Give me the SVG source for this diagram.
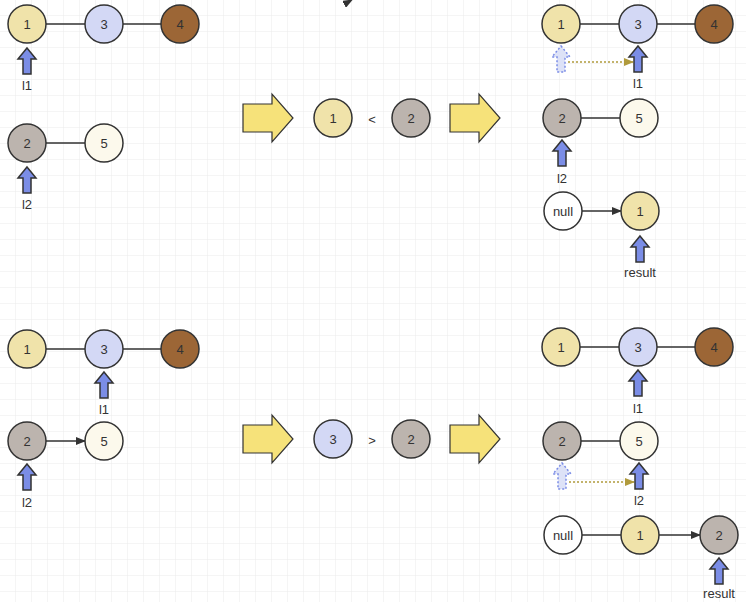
<svg xmlns="http://www.w3.org/2000/svg" width="746" height="602" viewBox="0 0 746 602">
<defs>
<pattern id="g" width="16" height="16" patternUnits="userSpaceOnUse"><path d="M16 0V16H0" fill="none" stroke="#ebebeb" stroke-width="1"/></pattern>
<marker id="ah" markerWidth="10" markerHeight="8" refX="9" refY="4" orient="auto" markerUnits="userSpaceOnUse"><path d="M0 0L10 4L0 8Z" fill="#333"/></marker>
<marker id="ay" markerWidth="10" markerHeight="8" refX="9" refY="4" orient="auto" markerUnits="userSpaceOnUse"><path d="M0 0L10 4L0 8Z" fill="#b09a3c"/></marker>
<path id="ptr" d="M0 0L9 11L4 11L4 26L-4 26L-4 11L-9 11Z"/>
<path id="big" d="M0 10H29V0L50 24L29 48V38H0Z"/>
</defs>
<style>
circle{stroke:#333;stroke-width:1.5}
.a{fill:#f0e3aa}.b{fill:#d3d8f5}.c{fill:#9c6636}.d{fill:#bcb4ae}.e{fill:#fcf9ec}.n{fill:#fff}
text{font-family:"Liberation Sans",Arial,sans-serif;font-size:13px;fill:#333;text-anchor:middle;dominant-baseline:central}
.p{fill:#7b8de6;stroke:#333;stroke-width:1.5}
.pd{fill:#dde2f7;stroke:#7b8de6;stroke-width:1.5;stroke-dasharray:2 2}
.y{fill:#f6e27a;stroke:#333;stroke-width:1.2}
.l{stroke:#333;stroke-width:1.3;fill:none}
.dl{stroke:#b09a3c;stroke-width:1.5;stroke-dasharray:2 2;fill:none}
</style>
<rect width="746" height="602" fill="#fff"/>
<rect width="746" height="602" fill="url(#g)"/>
<g id="connectors">
<path class="l" marker-end="url(#ah)" d="M46 24H85M123 24H161M46 143H85M352 0"/>
<path class="l" marker-end="url(#ah)" d="M580 24H619M657 24H695M581 118H620M582 211H621"/>
<path class="l" marker-end="url(#ah)" d="M46 349H85M123 349H161M46 441H85"/>
<path class="l" marker-end="url(#ah)" d="M580 347H619M657 347H695M581 441H620M582 535H621M659 535H700"/>
<path class="dl" marker-end="url(#ay)" d="M568 62H633"/>
<path class="dl" marker-end="url(#ay)" d="M569 482H634"/>
</g>
<g id="big-arrows">
<use href="#big" class="y" x="243" y="94"/><use href="#big" class="y" x="450" y="94"/>
<use href="#big" class="y" x="243" y="415"/><use href="#big" class="y" x="450" y="415"/>
</g>
<g id="n-tl1"><circle class="a" cx="27" cy="24" r="19"/><text x="27" y="24">1</text></g>
<g id="n-tl3"><circle class="b" cx="104" cy="24" r="19"/><text x="104" y="24">3</text></g>
<g id="n-tl4"><circle class="c" cx="180" cy="24" r="19"/><text x="180" y="24">4</text></g>
<g id="n-tl2"><circle class="d" cx="27" cy="143" r="19"/><text x="27" y="143">2</text></g>
<g id="n-tl5"><circle class="e" cx="104" cy="143" r="19"/><text x="104" y="143">5</text></g>
<g id="p-tl1"><use href="#ptr" class="p" x="27" y="48"/><text x="27" y="85">l1</text></g>
<g id="p-tl2"><use href="#ptr" class="p" x="27" y="167"/><text x="27" y="204">l2</text></g>
<g id="cmp1"><circle class="a" cx="333" cy="118" r="19"/><text x="333" y="118">1</text><text x="372" y="119">&lt;</text><circle class="d" cx="411" cy="118" r="19"/><text x="411" y="118">2</text></g>
<g id="n-tr1"><circle class="a" cx="561" cy="24" r="19"/><text x="561" y="24">1</text></g>
<g id="n-tr3"><circle class="b" cx="638" cy="24" r="19"/><text x="638" y="24">3</text></g>
<g id="n-tr4"><circle class="c" cx="714" cy="24" r="19"/><text x="714" y="24">4</text></g>
<g id="p-tr"><use href="#ptr" class="pd" x="561" y="46"/><use href="#ptr" class="p" x="638" y="46"/><text x="638" y="83">l1</text></g>
<g id="n-tr2"><circle class="d" cx="562" cy="118" r="19"/><text x="562" y="118">2</text></g>
<g id="n-tr5"><circle class="e" cx="639" cy="118" r="19"/><text x="639" y="118">5</text></g>
<g id="p-tr2"><use href="#ptr" class="p" x="562" y="140"/><text x="562" y="178">l2</text></g>
<g id="n-trnull"><circle class="n" cx="563" cy="211" r="19"/><text x="563" y="211">null</text></g>
<g id="n-trr1"><circle class="a" cx="640" cy="211" r="19"/><text x="640" y="211">1</text></g>
<g id="p-trr"><use href="#ptr" class="p" x="640" y="236"/><text x="640" y="272">result</text></g>
<g id="n-bl1"><circle class="a" cx="27" cy="349" r="19"/><text x="27" y="349">1</text></g>
<g id="n-bl3"><circle class="b" cx="104" cy="349" r="19"/><text x="104" y="349">3</text></g>
<g id="n-bl4"><circle class="c" cx="180" cy="349" r="19"/><text x="180" y="349">4</text></g>
<g id="p-bl1"><use href="#ptr" class="p" x="104" y="372"/><text x="104" y="409">l1</text></g>
<g id="n-bl2"><circle class="d" cx="27" cy="441" r="19"/><text x="27" y="441">2</text></g>
<g id="n-bl5"><circle class="e" cx="104" cy="441" r="19"/><text x="104" y="441">5</text></g>
<g id="p-bl2"><use href="#ptr" class="p" x="27" y="464"/><text x="27" y="502">l2</text></g>
<g id="cmp2"><circle class="b" cx="333" cy="439" r="19"/><text x="333" y="439">3</text><text x="372" y="440">&gt;</text><circle class="d" cx="411" cy="439" r="19"/><text x="411" y="439">2</text></g>
<g id="n-br1"><circle class="a" cx="561" cy="347" r="19"/><text x="561" y="347">1</text></g>
<g id="n-br3"><circle class="b" cx="638" cy="347" r="19"/><text x="638" y="347">3</text></g>
<g id="n-br4"><circle class="c" cx="714" cy="347" r="19"/><text x="714" y="347">4</text></g>
<g id="p-br1"><use href="#ptr" class="p" x="638" y="370"/><text x="638" y="408">l1</text></g>
<g id="n-br2"><circle class="d" cx="562" cy="441" r="19"/><text x="562" y="441">2</text></g>
<g id="n-br5"><circle class="e" cx="639" cy="441" r="19"/><text x="639" y="441">5</text></g>
<g id="p-br2"><use href="#ptr" class="pd" x="562" y="463"/><use href="#ptr" class="p" x="639" y="463"/><text x="639" y="500">l2</text></g>
<g id="n-brnull"><circle class="n" cx="563" cy="535" r="19"/><text x="563" y="535">null</text></g>
<g id="n-brr1"><circle class="a" cx="640" cy="535" r="19"/><text x="640" y="535">1</text></g>
<g id="n-brr2"><circle class="d" cx="719" cy="535" r="19"/><text x="719" y="535">2</text></g>
<g id="p-brr"><use href="#ptr" class="p" x="719" y="558"/><text x="719" y="593">result</text></g>
</svg>
